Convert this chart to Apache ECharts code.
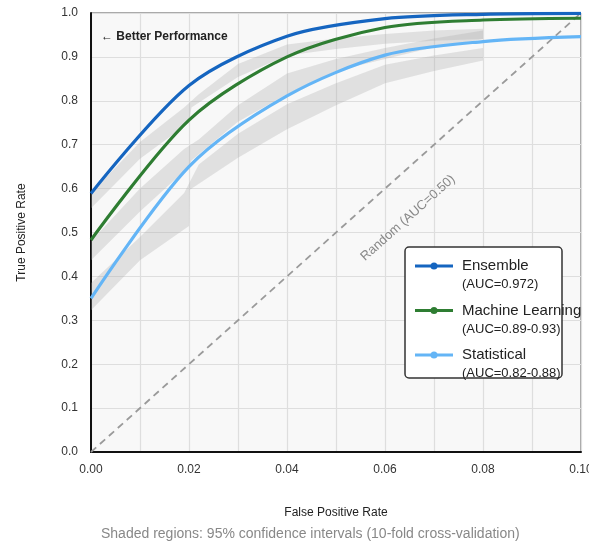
<!DOCTYPE html>
<html>
<head>
<meta charset="utf-8">
<script src="https://cdn.jsdelivr.net/npm/echarts@6/dist/echarts.min.js"></script>
<style>html,body{margin:0;padding:0;background:#fff;overflow:hidden}#c{width:589px;height:547px}</style>
</head>
<body>
<div id="c"></div>
<script>
// ---- data ----
const fpr = [0, 0.02, 0.04, 0.06, 0.08, 0.10];
const ensembleTPR = [0.589, 0.835, 0.947, 0.987, 0.997, 0.999];
const mlTPR = [0.483, 0.756, 0.900, 0.967, 0.984, 0.988];
const statTPR = [0.350, 0.650, 0.811, 0.904, 0.935, 0.946];

const seriesNames = ['Ensemble', 'Machine Learning', 'Statistical'];
const aucLabels = ['(AUC=0.972)', '(AUC=0.89-0.93)', '(AUC=0.82-0.88)'];

const ensembleBandUpper = [[0,0.59],[0.01,0.706],[0.019,0.785],[0.022,0.815],[0.03,0.884],[0.04,0.928],[0.05,0.942],[0.06,0.952],[0.07,0.96],[0.08,0.964]];
const ensembleBandLower = [[0,0.555],[0.01,0.668],[0.02,0.75],[0.0205,0.785],[0.03,0.854],[0.04,0.903],[0.05,0.918],[0.06,0.93],[0.07,0.937],[0.08,0.941]];
const mlBandUpper = [[0,0.48],[0.01,0.60],[0.019,0.69],[0.022,0.712],[0.03,0.79],[0.04,0.862],[0.05,0.895],[0.06,0.92],[0.07,0.942],[0.08,0.96]];
const mlBandLower = [[0,0.437],[0.01,0.548],[0.02,0.65],[0.0205,0.664],[0.03,0.752],[0.04,0.815],[0.05,0.868],[0.06,0.895],[0.07,0.922],[0.08,0.94]];
const statBandUpper = [[0,0.385],[0.01,0.49],[0.019,0.59],[0.022,0.655],[0.03,0.725],[0.04,0.792],[0.05,0.84],[0.06,0.882],[0.07,0.903],[0.08,0.92]];
const statBandLower = [[0,0.323],[0.01,0.437],[0.02,0.515],[0.0201,0.597],[0.03,0.67],[0.04,0.735],[0.05,0.79],[0.06,0.84],[0.07,0.868],[0.08,0.892]];

const randomLine = [[0, 0], [0.10, 1.0]];

const colors = ['#1565C0', '#2E7D32', '#64B5F6'];
const FONT = '"Liberation Sans", Arial, sans-serif';

const bands = [
  {upper: ensembleBandUpper, lower: ensembleBandLower},
  {upper: mlBandUpper, lower: mlBandLower},
  {upper: statBandUpper, lower: statBandLower}
];

function pairs(xs, ys){ return xs.map((x,i)=>[x, ys[i]]); }

const chart = echarts.init(document.getElementById('c'), null, {renderer:'canvas'});

function legendGraphic(){
  const Z = 100;
  const els = [{
    type:'rect', z:Z, shape:{x:405, y:247, width:157, height:131, r:4},
    style:{fill:'#fff', stroke:'#333', lineWidth:1.5}
  }];
  const ys = [266, 310.5, 355];
  seriesNames.forEach((n,i)=>{
    const y = ys[i];
    els.push({type:'line', z:Z+1, shape:{x1:415, y1:y, x2:453, y2:y}, style:{stroke:colors[i], lineWidth:3}});
    els.push({type:'circle', z:Z+2, shape:{cx:434, cy:y, r:3.5}, style:{fill:colors[i]}});
    els.push({type:'text', z:Z+1, x:462, y:y, style:{text:n, font:'15px ' + FONT, fill:'#222', verticalAlign:'middle', align:'left'}});
    els.push({type:'text', z:Z+1, x:462, y:y+18.5, style:{text:aucLabels[i], font:'13px ' + FONT, fill:'#222', verticalAlign:'middle', align:'left'}});
  });
  return els;
}

const option = {
  animation:false,
  backgroundColor:'#fff',
  grid:{left:91, right:8, top:13, bottom:95, containLabel:false, outerBoundsMode:'none',
        show:true, backgroundColor:'#f8f8f8', borderColor:'#555', borderWidth:1},
  xAxis:{
    type:'value', min:0, max:0.1, interval:0.01,
    name:'False Positive Rate', nameLocation:'middle', nameGap:55,
    nameTextStyle:{fontSize:12, color:'#222', fontFamily:FONT},
    axisLine:{show:true, onZero:false, lineStyle:{color:'#111', width:2}},
    axisTick:{show:false},
    axisLabel:{margin:12, fontSize:12, color:'#333', fontFamily:FONT, hideOverlap:false,
      formatter:(v)=> (Math.round(v*100) % 2 === 0) ? v.toFixed(2) : ''},
    splitLine:{show:true, lineStyle:{color:'#dedede', width:1.2}}
  },
  yAxis:{
    type:'value', min:0, max:1, interval:0.1,
    name:'True Positive Rate', nameLocation:'middle', nameGap:63, nameRotate:90,
    nameTextStyle:{fontSize:12, color:'#222', fontFamily:FONT},
    axisLine:{show:true, onZero:false, lineStyle:{color:'#111', width:2}},
    axisTick:{show:false},
    axisLabel:{margin:13, fontSize:12, color:'#333', fontFamily:FONT, formatter:(v)=>v.toFixed(1)},
    splitLine:{show:true, lineStyle:{color:'#dedede', width:1.2}}
  },
  series:[
    {
      type:'custom', silent:true, z:1,
      data:[[0,0],[0,0],[0,0]],
      encode:{x:0, y:1},
      renderItem:(params, api)=>{
        const b = bands[params.dataIndex];
        const pts = b.upper.map(p=>api.coord(p)).concat(b.lower.slice().reverse().map(p=>api.coord(p)));
        return {type:'polygon', shape:{points:pts}, style:{fill:'rgba(170,170,170,0.3)'}};
      }
    },
    {
      type:'line', data:randomLine, z:2, silent:true, showSymbol:false,
      lineStyle:{color:'#9a9a9a', width:1.8, type:[7,5]}
    },
    {name:seriesNames[2], type:'line', data:pairs(fpr, statTPR), smooth:0.3, showSymbol:false, symbol:'circle', z:3,
      lineStyle:{color:colors[2], width:3.2}, itemStyle:{color:colors[2]}},
    {name:seriesNames[1], type:'line', data:pairs(fpr, mlTPR), smooth:0.3, showSymbol:false, symbol:'circle', z:4,
      lineStyle:{color:colors[1], width:3.2}, itemStyle:{color:colors[1]}},
    {name:seriesNames[0], type:'line', data:pairs(fpr, ensembleTPR), smooth:0.3, showSymbol:false, symbol:'circle', z:5,
      lineStyle:{color:colors[0], width:3.2}, itemStyle:{color:colors[0]}}
  ],
  graphic:[
    {type:'text', x:101, y:37, z:100, style:{text:'\u2190 Better Performance', font:'bold 12px ' + FONT, fill:'#222', verticalAlign:'middle'}},
    {type:'text', x:408, y:218, z:100, rotation:41.9*Math.PI/180, style:{text:'Random (AUC=0.50)', font:'13px ' + FONT, fill:'#888', align:'center', verticalAlign:'middle'}},
    {type:'text', x:101, y:534, z:100, style:{text:'Shaded regions: 95% confidence intervals (10-fold cross-validation)', font:'14px ' + FONT, fill:'#888', verticalAlign:'middle'}}
  ].concat(legendGraphic())
};
chart.setOption(option);
</script>
</body>
</html>
